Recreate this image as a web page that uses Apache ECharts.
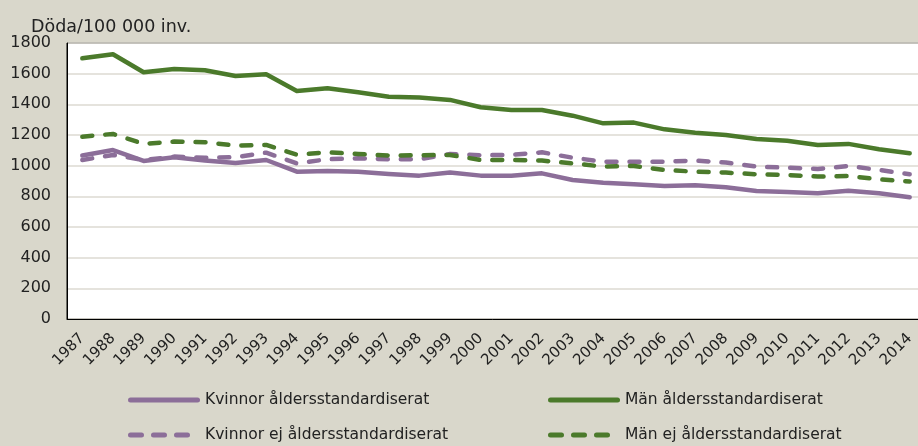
<!DOCTYPE html>
<html>
<head>
<meta charset="utf-8">
<script src="https://cdn.jsdelivr.net/npm/echarts@6/dist/echarts.min.js"></script>
<style>
  html, body { margin: 0; padding: 0; background: #d9d7cb; }
  #chart { width: 918px; height: 446px; }
</style>
</head>
<body>
<div id="chart"></div>
<script>
// years on the x axis
const years = ["1987","1988","1989","1990","1991","1992","1993","1994","1995","1996","1997","1998","1999","2000",
  "2001","2002","2003","2004","2005","2006","2007","2008","2009","2010","2011","2012","2013","2014"];

// deaths per 100 000
const kvinnorStd = [1066,1102,1031,1055,1033,1017,1037,961,965,961,946,935,955,935,
  935,950,907,889,879,868,872,859,835,828,820,837,820,794];
const manStd = [1700,1727,1609,1631,1622,1585,1596,1487,1505,1479,1450,1444,1429,1381,
  1363,1363,1326,1276,1281,1237,1215,1200,1174,1163,1135,1142,1107,1081];
const kvinnorEj = [1037,1070,1037,1059,1052,1055,1085,1015,1042,1048,1042,1042,1076,1068,
  1070,1087,1052,1026,1026,1026,1033,1020,994,987,978,998,972,944];
const manEj = [1189,1207,1142,1157,1153,1131,1135,1072,1087,1076,1066,1068,1070,1037,
  1037,1033,1015,994,998,972,961,955,944,939,929,933,911,896];

const yTicks = { min: 0, max: 1800, interval: 200 };

const purple = "#8c6e99";
const green = "#4b7a2b";
const font = "DejaVu Sans";

// legend icons: one long bar, or three short dashes
const solidIcon = "path://M2.5,0h67a2.5,2.5 0 0 1 0,5h-67a2.5,2.5 0 0 1 0,-5z";
const dashIcon = "path://M2.5,0h11a2.5,2.5 0 0 1 0,5h-11a2.5,2.5 0 0 1 0,-5z" +
  "M25.5,0h11a2.5,2.5 0 0 1 0,5h-11a2.5,2.5 0 0 1 0,-5z" +
  "M48.5,0h11a2.5,2.5 0 0 1 0,5h-11a2.5,2.5 0 0 1 0,-5z";

const chart = echarts.init(document.getElementById("chart"));

function lineSeries(name, data, color, dashed) {
  return {
    name: name,
    type: "line",
    data: data,
    symbol: "none",
    lineStyle: {
      color: color,
      width: 4.5,
      type: dashed ? [10, 13] : "solid",
      cap: "round",
      join: "round"
    },
    itemStyle: { color: color }
  };
}

function legendAt(name, dashed, left, top) {
  return {
    data: [{ name: name, icon: dashed ? dashIcon : solidIcon }],
    left: left,
    top: top,
    padding: 0,
    itemWidth: dashed ? 62 : 72,
    itemHeight: 5,
    textStyle: {
      fontFamily: font,
      fontSize: 15.5,
      color: "#222",
      padding: [0, 0, 0, dashed ? 10 : 0]
    }
  };
}

const option = {
  backgroundColor: "#d9d7cb",
  animation: false,
  title: {
    text: "Döda/100 000 inv.",
    left: 26,
    top: 13,
    textStyle: { fontFamily: font, fontSize: 17.5, fontWeight: "normal", color: "#222" }
  },
  legend: [
    legendAt("Kvinnor åldersstandardiserat", false, 128, 392),
    legendAt("Män åldersstandardiserat", false, 548, 392),
    legendAt("Kvinnor ej åldersstandardiserat", true, 128, 427),
    legendAt("Män ej åldersstandardiserat", true, 548, 427)
  ],
  grid: {
    left: 67,
    top: 43,
    width: 858,
    bottom: 127,
    containLabel: false,
    outerBoundsMode: "none",
    show: true,
    backgroundColor: "#ffffff",
    borderColor: "#000",
    borderWidth: 1
  },
  xAxis: {
    type: "category",
    data: years,
    boundaryGap: true,
    axisLine: { lineStyle: { color: "#000", width: 1 } },
    axisTick: { inside: true, length: 5, lineStyle: { color: "#000" } },
    axisLabel: {
      interval: 0,
      rotate: 45,
      margin: 17,
      fontFamily: font,
      fontSize: 15,
      color: "#222"
    }
  },
  yAxis: {
    type: "value",
    min: yTicks.min,
    max: yTicks.max,
    interval: yTicks.interval,
    axisLine: { show: true, lineStyle: { color: "#000", width: 1 } },
    axisTick: { show: false },
    axisLabel: {
      margin: 16,
      fontFamily: font,
      fontSize: 16,
      color: "#222",
      formatter: function (v) { return String(v); }
    },
    splitLine: { lineStyle: { color: "#dcdad2", width: 1.5 } }
  },
  series: [
    lineSeries("Kvinnor åldersstandardiserat", kvinnorStd, purple, false),
    lineSeries("Kvinnor ej åldersstandardiserat", kvinnorEj, purple, true),
    lineSeries("Män ej åldersstandardiserat", manEj, green, true),
    lineSeries("Män åldersstandardiserat", manStd, green, false)
  ]
};

chart.setOption(option);
</script>
</body>
</html>
